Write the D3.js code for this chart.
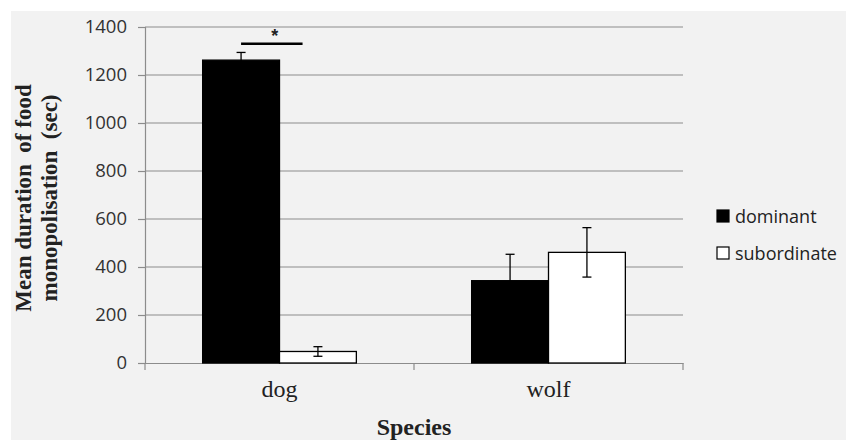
<!DOCTYPE html>
<html><head><meta charset="utf-8">
<script src="https://cdn.jsdelivr.net/npm/d3@7"></script>
<style>body{margin:0;background:#fff}</style>
</head><body><svg id="c" width="846" height="440"></svg>
<script>
const categories = ["dog", "wolf"];
const seriesNames = ["dominant", "subordinate"];
const dominantValues = [1262, 343];
const dominantErrors = [32, 110];
const subordinateValues = [48, 461];
const subordinateErrors = [20, 103];
const yTicks = [0, 200, 400, 600, 800, 1000, 1200, 1400];

(function () {
const svg = d3.select("#c");
svg.append("rect").attr("x", 11).attr("y", 11).attr("width", 835).attr("height", 429).attr("fill", "#f2f2f2");

const pL = 145, pR = 683, pT = 27, pB = 363;
const y = d3.scaleLinear().domain([0, 1400]).range([pB, pT]);
const x = d3.scaleBand().domain(categories).range([pL, pR]).paddingInner(0).paddingOuter(0);
const inner = d3.scaleBand().domain(seriesNames).range([0, x.bandwidth()]).paddingInner(0).paddingOuter(0.75);

const data = categories.map((c, i) => ({
  cat: c,
  bars: [
    {s: "dominant", v: dominantValues[i], e: dominantErrors[i]},
    {s: "subordinate", v: subordinateValues[i], e: subordinateErrors[i]}
  ]
}));

// gridlines
svg.append("g").selectAll("line").data(yTicks.filter(t => t > 0)).join("line")
  .attr("x1", pL).attr("x2", pR).attr("y1", d => y(d)).attr("y2", d => y(d))
  .attr("stroke", "#8c8c8c").attr("stroke-width", 1.2);

// y axis
const yAxis = svg.append("g").attr("transform", `translate(${pL},0)`)
  .call(d3.axisLeft(y).tickValues(yTicks).tickSize(7).tickPadding(11).tickFormat(d3.format("d")));
yAxis.select(".domain").attr("stroke", "#8c8c8c").attr("stroke-width", 1.2);
yAxis.selectAll(".tick line").attr("stroke", "#8c8c8c").attr("stroke-width", 1.2);
yAxis.selectAll(".tick text").attr("font-family", "Open Sans").attr("font-size", 18.5).attr("fill", "#333");

// x axis
const xAxis = svg.append("g").attr("transform", `translate(0,${pB})`)
  .call(d3.axisBottom(x).tickSize(0).tickPadding(17));
xAxis.select(".domain").attr("stroke", "#8c8c8c").attr("stroke-width", 1.2);
xAxis.selectAll(".tick text").attr("font-family", "Liberation Serif").attr("font-size", 24).attr("fill", "#222");
const boundaries = [pL, pL + x.step(), pR];
xAxis.append("g").selectAll("line").data(boundaries).join("line")
  .attr("x1", d => d).attr("x2", d => d).attr("y1", 0).attr("y2", 7)
  .attr("stroke", "#8c8c8c").attr("stroke-width", 1.2);

// bars
const groups = svg.append("g").selectAll("g").data(data).join("g")
  .attr("transform", d => `translate(${x(d.cat)},0)`);
groups.selectAll("rect").data(d => d.bars).join("rect")
  .attr("x", d => inner(d.s)).attr("width", inner.bandwidth())
  .attr("y", d => y(d.v)).attr("height", d => y(0) - y(d.v))
  .attr("fill", d => d.s === "dominant" ? "#000" : "#fff")
  .attr("stroke", "#000").attr("stroke-width", 1.3);

// error bars
const eb = groups.selectAll("g.err").data(d => d.bars).join("g").attr("class", "err")
  .attr("transform", d => `translate(${inner(d.s) + inner.bandwidth() / 2},0)`);
eb.append("line").attr("y1", d => y(d.v - d.e)).attr("y2", d => y(d.v + d.e)).attr("stroke", "#000").attr("stroke-width", 1.3);
eb.append("line").attr("x1", -4.5).attr("x2", 4.5).attr("y1", d => y(d.v + d.e)).attr("y2", d => y(d.v + d.e)).attr("stroke", "#000").attr("stroke-width", 1.3);
eb.append("line").attr("x1", -4.5).attr("x2", 4.5).attr("y1", d => y(d.v - d.e)).attr("y2", d => y(d.v - d.e)).attr("stroke", "#000").attr("stroke-width", 1.3);

// significance marker
const sigX1 = x("dog") + inner("dominant") + inner.bandwidth() / 2;
const sigX2 = sigX1 + inner.bandwidth() * 0.8;
svg.append("line").attr("x1", sigX1).attr("x2", sigX2).attr("y1", y(1330)).attr("y2", y(1330))
  .attr("stroke", "#000").attr("stroke-width", 2.5);
svg.append("text").attr("x", (sigX1 + sigX2) / 2 + 3).attr("y", y(1330) - 2).attr("text-anchor", "middle")
  .attr("font-family", "Liberation Sans").attr("font-size", 18).attr("font-weight", "bold").attr("fill", "#222").text("*");

// axis titles
svg.append("text").attr("x", (pL + pR) / 2).attr("y", 435).attr("text-anchor", "middle")
  .attr("font-family", "Liberation Serif").attr("font-weight", "bold").attr("font-size", 24).attr("fill", "#222").text("Species");
const yt = svg.append("text").attr("transform", "translate(0,198) rotate(-90)").attr("text-anchor", "middle")
  .attr("font-family", "Liberation Serif").attr("font-weight", "bold").attr("font-size", 23).attr("fill", "#222");
yt.append("tspan").attr("x", 0).attr("y", 31).text("Mean duration\u00a0 of food");
yt.append("tspan").attr("x", 0).attr("y", 57).text("monopolisation\u00a0 (sec)");

// legend
const legend = svg.append("g").selectAll("g").data(seriesNames).join("g")
  .attr("transform", (d, i) => `translate(717,${210 + i * 37})`);
legend.append("rect").attr("width", 12).attr("height", 12)
  .attr("fill", d => d === "dominant" ? "#000" : "#fff").attr("stroke", "#000").attr("stroke-width", 1.2);
legend.append("text").attr("x", 18).attr("y", 12.5).attr("font-family", "Open Sans").attr("font-size", 18).attr("fill", "#222").text(d => d);
})();
</script></body></html>
